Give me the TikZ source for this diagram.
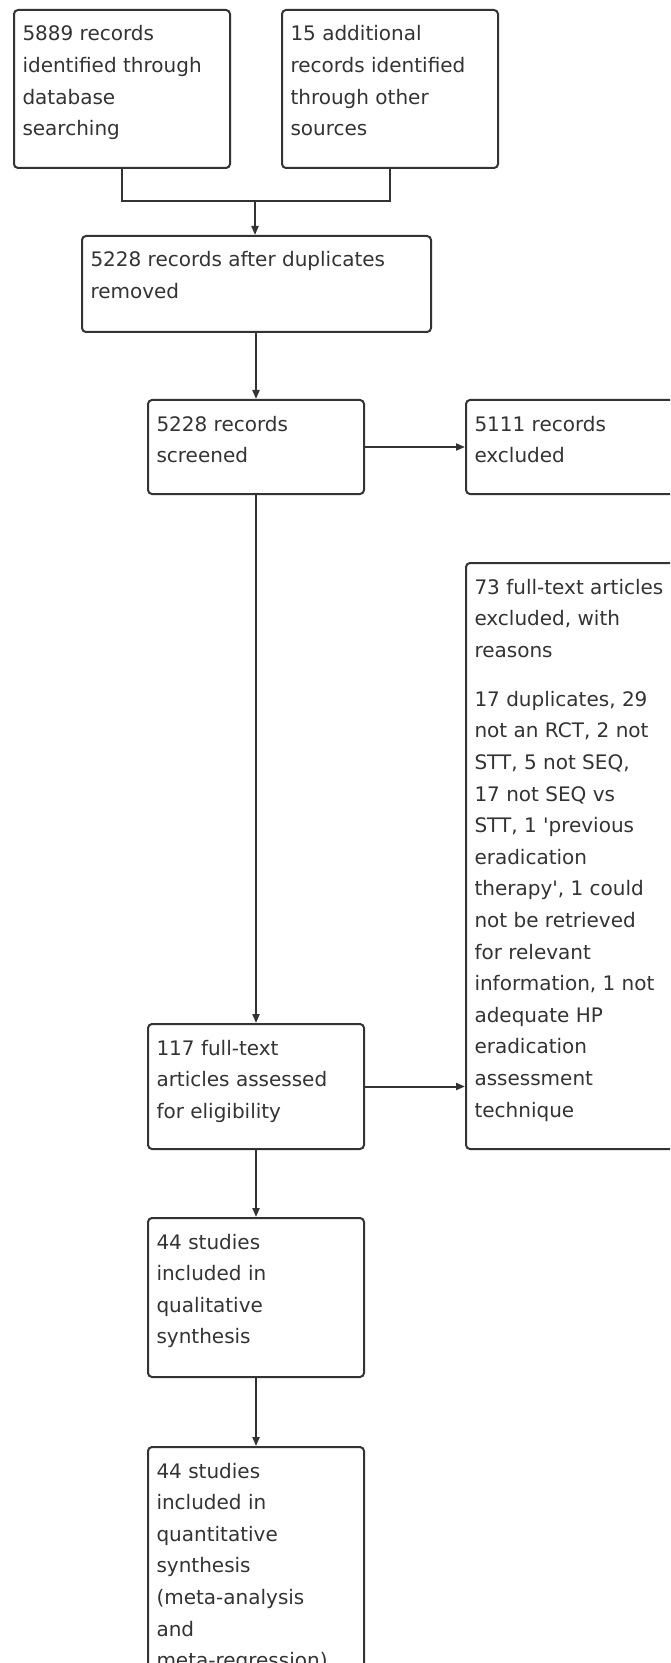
\documentclass[tikz,border=0pt]{standalone}
\usepackage{fontspec}
\newfontfamily\flowfont{DejaVu Sans}
\usetikzlibrary{arrows.meta,positioning}
\definecolor{linegray}{gray}{0.2}
\definecolor{textgray}{gray}{0.2}
% fixed-height text block, top aligned
\newcommand{\boxtext}[3]{\parbox[t][#2][t]{#1}{\rule{0pt}{15.5pt}#3}}

\begin{document}
\begin{tikzpicture}[x=0.5pt,y=-0.5pt,
    stage/.style={draw=linegray,line width=1pt,rounded corners=2pt,anchor=north west,
      inner xsep=4.25pt,inner ysep=0pt,text=textgray,
      font=\flowfont\fontsize{10}{15.8}\selectfont},
    link/.style={draw=linegray,line width=1pt},
    arr/.style={link,-{Triangle[length=4.5pt,width=3.5pt]}}]
  \useasboundingbox (0,0) rectangle (670,1663);
  \clip (0,0) rectangle (670,1663);
  \node[stage] (srcdb) at (13,9) {\boxtext{99.5pt}{79pt}{5889 records\\identified through\\database\\searching}};
  \node[stage] (srcother) at (281,9) {\boxtext{99.5pt}{79pt}{15 additional\\records identified\\through other\\sources}};
  \node[stage] (dedup) at (81,235) {\boxtext{166pt}{48pt}{5228 records after duplicates\\removed}};
  \node[stage] (screened) at (147,399) {\boxtext{99.5pt}{47pt}{5228 records\\screened}};
  \node[stage] (screenexcl) at (465,399) {\boxtext{99.5pt}{47pt}{5111 records\\excluded}};
  \node[stage] (ftexcl) at (465,562) {\boxtext{99.5pt}{293pt}{73 full-text articles\\excluded, with\\reasons\\[8.75pt]17 duplicates, 29\\not an RCT, 2 not\\STT, 5 not SEQ,\\17 not SEQ vs\\STT, 1 \textquotesingle previous\\eradication\\therapy\textquotesingle, 1 could\\not be retrieved\\for relevant\\information, 1 not\\adequate HP\\eradication\\assessment\\technique}};
  \node[stage] (fulltext) at (147,1023) {\boxtext{99.5pt}{62.5pt}{117 full-text\\articles assessed\\for eligibility}};
  \node[stage] (qual) at (147,1217) {\boxtext{99.5pt}{79.5pt}{44 studies\\included in\\qualitative\\synthesis}};
  \node[stage] (quant) at (147,1446) {\boxtext{99.5pt}{140pt}{44 studies\\included in\\quantitative\\synthesis\\(meta-analysis\\and\\meta-regression)}};

  \coordinate (join) at (255,201);
  \draw[link] (srcdb.south) |- (join) -| (srcother.south);
  \draw[arr] (join) -- (join |- dedup.north);
  \draw[arr] (screened.north |- dedup.south) -- (screened.north);
  \draw[arr] (screened) -- (screenexcl);
  \draw[arr] (screened) -- (fulltext);
  \draw[arr] (fulltext.east) -- (fulltext.east -| ftexcl.west);
  \draw[arr] (fulltext) -- (qual);
  \draw[arr] (qual) -- (quant);
\end{tikzpicture}
\end{document}
